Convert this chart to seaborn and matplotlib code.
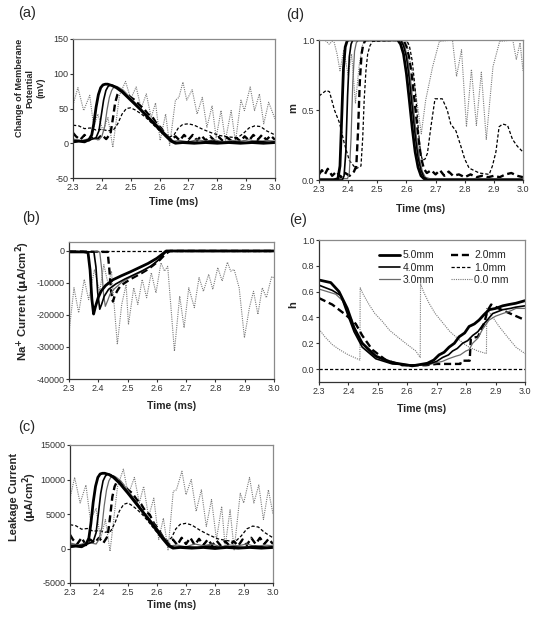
import matplotlib
matplotlib.use('Agg')
import matplotlib.pyplot as plt
import seaborn as sns
from matplotlib.lines import Line2D

# ---------------- data ----------------
SERIES = ['5.0mm', '4.0mm', '3.0mm', '2.0mm', '1.0mm', '0.0 mm']
XTICKS = [2.3, 2.4, 2.5, 2.6, 2.7, 2.8, 2.9, 3.0]
XTICKLABELS = ['2.3', '2.4', '2.5', '2.6', '2.7', '2.8', '2.9', '3.0']

# (a) change of membrane potential (mV)
A_T50 = [2.30, 2.32, 2.34, 2.355, 2.365, 2.372, 2.38, 2.388, 2.396, 2.404, 2.412, 2.42, 2.435, 2.45, 2.47, 2.50, 2.53, 2.56, 2.59, 2.62, 2.64, 2.655, 2.68, 2.72, 2.76, 2.80, 2.84, 2.88, 2.92, 2.96, 3.00]
A_V50 = [2, 3, 2, 5, 12, 28, 52, 70, 80, 84, 85, 85, 83, 80, 74, 62, 50, 37, 24, 11, 3, 0, 1, 0, 1, 0, 1, 0, 1, 0, 1]
A_T40 = [2.30, 2.33, 2.36, 2.38, 2.39, 2.398, 2.406, 2.414, 2.422, 2.43, 2.44, 2.455, 2.47, 2.50, 2.53, 2.56, 2.59, 2.62, 2.645, 2.66, 2.70, 2.74, 2.78, 2.82, 2.86, 2.90, 2.94, 2.98, 3.00]
A_V40 = [4, 3, 5, 8, 18, 40, 62, 76, 82, 84, 83, 80, 75, 63, 51, 38, 26, 13, 3, 1, 2, 1, 3, 1, 2, 1, 3, 1, 2]
A_T30 = [2.30, 2.33, 2.36, 2.39, 2.40, 2.41, 2.418, 2.426, 2.434, 2.442, 2.45, 2.46, 2.475, 2.50, 2.53, 2.56, 2.59, 2.62, 2.648, 2.67, 2.70, 2.73, 2.76, 2.79, 2.82, 2.85, 2.88, 2.91, 2.94, 2.97, 3.00]
A_V30 = [6, 4, 7, 5, 10, 24, 48, 66, 76, 81, 82, 80, 76, 65, 52, 39, 27, 14, 3, 4, 2, 5, 3, 5, 2, 4, 3, 5, 2, 4, 3]
A_T20 = [2.30, 2.31, 2.325, 2.34, 2.355, 2.37, 2.385, 2.40, 2.415, 2.43, 2.438, 2.446, 2.454, 2.462, 2.47, 2.48, 2.49, 2.50, 2.515, 2.53, 2.545, 2.56, 2.575, 2.59, 2.605, 2.62, 2.64, 2.655, 2.67, 2.685, 2.70, 2.715, 2.73, 2.745, 2.76, 2.775, 2.79, 2.805, 2.82, 2.835, 2.85, 2.865, 2.88, 2.895, 2.91, 2.925, 2.94, 2.955, 2.97, 2.985, 3.00]
A_V20 = [15, 10, 5, 12, 4, 10, 6, 12, 6, 14, 35, 58, 70, 75, 76, 72, 70, 66, 62, 55, 50, 42, 38, 28, 22, 13, 5, 10, 4, 12, 5, 12, 4, 11, 4, 10, 4, 9, 3, 8, 3, 8, 3, 10, 4, 12, 5, 12, 5, 11, 5]
A_T10 = [2.30, 2.32, 2.34, 2.36, 2.38, 2.40, 2.42, 2.44, 2.455, 2.47, 2.485, 2.50, 2.515, 2.53, 2.55, 2.57, 2.59, 2.61, 2.63, 2.65, 2.665, 2.68, 2.70, 2.72, 2.75, 2.78, 2.81, 2.84, 2.87, 2.89, 2.91, 2.93, 2.95, 2.97, 3.00]
A_V10 = [26, 25, 21, 22, 19, 20, 18, 19, 28, 42, 50, 51, 48, 44, 38, 30, 22, 14, 8, 12, 22, 27, 28, 26, 20, 15, 11, 9, 8, 14, 22, 25, 24, 18, 12]
A_T00 = [2.300, 2.317, 2.337, 2.358, 2.372, 2.386, 2.404, 2.421, 2.438, 2.461, 2.482, 2.500, 2.519, 2.536, 2.554, 2.571, 2.586, 2.602, 2.621, 2.635, 2.655, 2.667, 2.681, 2.694, 2.713, 2.730, 2.748, 2.764, 2.782, 2.796, 2.813, 2.828, 2.848, 2.863, 2.882, 2.894, 2.914, 2.929, 2.946, 2.961, 2.978, 3.000]
A_V00 = [55, 80, 47, 69, 23, 42, 18, 37, -6, 69, 89, 64, 81, 50, 71, 37, 58, 4, 42, -3, 62, 66, 88, 62, 77, 42, 66, 23, 54, 8, 47, 4, 47, 2, 62, 47, 81, 47, 71, 28, 59, 35]

# (b) Na+ current (uA/cm2)
B_T50 = [2.30, 2.35, 2.365, 2.372, 2.378, 2.384, 2.39, 2.40, 2.41, 2.425, 2.45, 2.48, 2.51, 2.54, 2.57, 2.60, 2.62, 2.632, 2.65, 3.00]
B_V50 = [-300, -300, -500, -6000, -15000, -19700, -17500, -14500, -12500, -10800, -9000, -7700, -6500, -5200, -3900, -2300, -900, 0, 0, 0]
B_T40 = [2.30, 2.385, 2.392, 2.398, 2.405, 2.412, 2.42, 2.435, 2.46, 2.49, 2.52, 2.55, 2.58, 2.61, 2.628, 2.64, 3.00]
B_V40 = [-200, -300, -5000, -13000, -18200, -16500, -14200, -12000, -10300, -8800, -7500, -6200, -4700, -2500, -500, 0, 0]
B_T30 = [2.30, 2.405, 2.412, 2.418, 2.424, 2.432, 2.44, 2.455, 2.48, 2.51, 2.54, 2.57, 2.60, 2.625, 2.64, 3.00]
B_V30 = [-200, -300, -6000, -13500, -17300, -15500, -13500, -11800, -9800, -8200, -6900, -5300, -3300, -800, 0, 0]
B_T20 = [2.30, 2.432, 2.438, 2.444, 2.45, 2.456, 2.465, 2.475, 2.49, 2.51, 2.53, 2.55, 2.57, 2.59, 2.61, 2.63, 2.645, 3.00]
B_V20 = [-200, -300, -6000, -13000, -15800, -14000, -12400, -11000, -10000, -8800, -7800, -6800, -5700, -4300, -2800, -900, 0, 0]
B_T10 = [2.30, 3.00]
B_V10 = [0, 0]
B_T00 = [2.300, 2.317, 2.333, 2.352, 2.367, 2.387, 2.405, 2.419, 2.434, 2.445, 2.465, 2.480, 2.495, 2.503, 2.521, 2.535, 2.550, 2.565, 2.581, 2.597, 2.614, 2.626, 2.637, 2.660, 2.678, 2.693, 2.709, 2.728, 2.744, 2.759, 2.777, 2.791, 2.808, 2.823, 2.841, 2.852, 2.864, 2.881, 2.899, 2.916, 2.930, 2.945, 2.960, 2.974, 2.992, 3.000]
B_V00 = [-25500, -11500, -19300, -8900, -15200, -5800, -12600, -4300, -10500, -6300, -29200, -16700, -10500, -23000, -11500, -16700, -8900, -14600, -6800, -13100, -3700, -6300, -4800, -31300, -14100, -24000, -11500, -17700, -8300, -12600, -7300, -12000, -5200, -9400, -3500, -6300, -5800, -11500, -27100, -17700, -12600, -19800, -11500, -14600, -8000, -8400]

# (c) leakage current (uA/cm2)
C_T50 = A_T50
C_V50 = [250, 350, 250, 600, 1500, 3600, 6700, 9000, 10300, 10800, 10900, 10900, 10700, 10300, 9500, 8000, 6400, 4800, 3100, 1400, 400, 50, 150, 50, 150, 0, 150, 50, 150, 50, 150]
C_T40 = A_T40
C_V40 = [500, 400, 650, 1000, 2300, 5100, 8000, 9800, 10500, 10800, 10700, 10300, 9650, 8100, 6600, 4900, 3400, 1700, 400, 150, 250, 150, 350, 150, 250, 150, 350, 150, 250]
C_T30 = A_T30
C_V30 = [800, 500, 900, 650, 1300, 3100, 6200, 8500, 9800, 10400, 10550, 10300, 9800, 8400, 6700, 5000, 3500, 1800, 400, 500, 250, 650, 400, 650, 250, 500, 400, 650, 250, 500, 400]
C_T20 = A_T20
C_V20 = [2000, 1300, 650, 1550, 500, 1300, 800, 1550, 800, 1800, 4500, 7500, 9000, 9700, 9800, 9300, 9000, 8500, 8000, 7100, 6450, 5400, 4900, 3600, 2800, 1700, 650, 1300, 500, 1550, 650, 1550, 500, 1400, 500, 1300, 500, 1150, 400, 1050, 400, 1050, 400, 1300, 500, 1550, 650, 1550, 650, 1400, 650]
C_T10 = A_T10
C_V10 = [3450, 3300, 2800, 2900, 2500, 2600, 2350, 2500, 3700, 5400, 6400, 6600, 6200, 5700, 4900, 3900, 2850, 1800, 1000, 1550, 2850, 3500, 3650, 3400, 2600, 1950, 1400, 1150, 1000, 1800, 2850, 3250, 3100, 2350, 1550]
C_T00 = [2.300, 2.316, 2.335, 2.355, 2.370, 2.390, 2.405, 2.422, 2.438, 2.464, 2.484, 2.501, 2.522, 2.539, 2.554, 2.571, 2.589, 2.606, 2.622, 2.638, 2.656, 2.667, 2.686, 2.700, 2.718, 2.735, 2.753, 2.770, 2.788, 2.805, 2.823, 2.835, 2.852, 2.866, 2.887, 2.899, 2.919, 2.934, 2.951, 2.967, 2.984, 3.000]
C_V00 = [7300, 10300, 6600, 9200, 4200, 5800, 1300, 4200, -400, 9000, 11500, 7800, 10300, 6600, 9000, 4600, 7300, 1300, 4400, -200, 8300, 8500, 11200, 7800, 10000, 5400, 8500, 3200, 7100, 1300, 6100, 300, 5600, -200, 8000, 6600, 10300, 6600, 9200, 4200, 8500, 5000]

# (d) m gate
D_T50 = [2.30, 2.35, 2.365, 2.372, 2.378, 2.384, 2.39, 2.396, 2.40, 2.57, 2.58, 2.59, 2.60, 2.61, 2.62, 2.63, 2.64, 2.65, 2.66, 2.67, 3.00]
D_V50 = [0.0, 0.0, 0.01, 0.1, 0.45, 0.8, 0.95, 0.99, 1.0, 1.0, 0.97, 0.9, 0.76, 0.57, 0.37, 0.2, 0.09, 0.03, 0.01, 0.0, 0.0]
D_T40 = [2.30, 2.38, 2.386, 2.392, 2.398, 2.404, 2.41, 2.416, 2.58, 2.59, 2.60, 2.61, 2.62, 2.63, 2.64, 2.65, 2.66, 2.675, 3.00]
D_V40 = [0.0, 0.0, 0.03, 0.2, 0.6, 0.88, 0.97, 1.0, 1.0, 0.96, 0.88, 0.72, 0.52, 0.32, 0.16, 0.07, 0.02, 0.0, 0.0]
D_T30 = [2.30, 2.398, 2.404, 2.41, 2.416, 2.422, 2.428, 2.435, 2.585, 2.595, 2.605, 2.615, 2.625, 2.635, 2.645, 2.655, 2.665, 2.68, 3.00]
D_V30 = [0.01, 0.01, 0.05, 0.3, 0.7, 0.92, 0.98, 1.0, 1.0, 0.95, 0.86, 0.7, 0.5, 0.3, 0.15, 0.06, 0.02, 0.01, 0.01]
D_T20 = [2.30, 2.31, 2.32, 2.33, 2.345, 2.36, 2.375, 2.39, 2.405, 2.42, 2.428, 2.434, 2.44, 2.446, 2.452, 2.46, 2.59, 2.60, 2.61, 2.62, 2.63, 2.64, 2.65, 2.66, 2.67, 2.685, 2.70, 2.715, 2.73, 2.745, 2.76, 2.78, 2.80, 2.82, 2.84, 2.86, 2.88, 2.90, 2.92, 2.94, 2.96, 2.98, 3.00]
D_V20 = [0.04, 0.07, 0.04, 0.08, 0.03, 0.06, 0.02, 0.05, 0.03, 0.06, 0.1, 0.35, 0.7, 0.9, 0.97, 1.0, 1.0, 0.95, 0.87, 0.72, 0.52, 0.32, 0.16, 0.08, 0.05, 0.07, 0.04, 0.07, 0.03, 0.06, 0.03, 0.04, 0.02, 0.04, 0.02, 0.03, 0.02, 0.03, 0.02, 0.04, 0.05, 0.03, 0.02]
D_T10 = [2.30, 2.325, 2.336, 2.353, 2.37, 2.387, 2.404, 2.427, 2.444, 2.45, 2.455, 2.461, 2.467, 2.475, 2.484, 2.60, 2.61, 2.62, 2.63, 2.64, 2.648, 2.655, 2.664, 2.672, 2.684, 2.698, 2.723, 2.74, 2.752, 2.77, 2.787, 2.80, 2.815, 2.85, 2.884, 2.895, 2.907, 2.918, 2.93, 2.947, 2.964, 2.981, 3.00]
D_V10 = [0.6, 0.64, 0.63, 0.5, 0.41, 0.26, 0.14, 0.08, 0.1, 0.3, 0.57, 0.78, 0.9, 0.96, 0.99, 1.0, 0.96, 0.85, 0.65, 0.38, 0.2, 0.14, 0.15, 0.19, 0.38, 0.58, 0.58, 0.5, 0.4, 0.35, 0.24, 0.15, 0.085, 0.05, 0.04, 0.1, 0.2, 0.38, 0.4, 0.39, 0.29, 0.24, 0.2]
D_T00 = [2.30, 2.32, 2.335, 2.35, 2.362, 2.372, 2.385, 2.40, 2.412, 2.425, 2.438, 2.45, 2.46, 2.60, 2.612, 2.625, 2.64, 2.651, 2.666, 2.69, 2.713, 2.758, 2.772, 2.789, 2.806, 2.823, 2.84, 2.857, 2.874, 2.897, 2.92, 2.965, 2.977, 2.99, 3.00]
D_V00 = [1.0, 1.0, 0.97, 1.0, 0.9, 0.78, 0.93, 0.75, 0.9, 0.55, 0.82, 0.97, 1.0, 1.0, 0.85, 0.72, 0.5, 0.33, 0.57, 0.81, 0.99, 1.0, 0.74, 0.93, 0.38, 0.79, 0.39, 0.77, 0.29, 0.81, 0.99, 1.0, 0.86, 0.98, 0.78]

# (e) h gate
E_T50 = [2.30, 2.34, 2.368, 2.396, 2.419, 2.447, 2.493, 2.549, 2.617, 2.668, 2.69, 2.708, 2.725, 2.742, 2.76, 2.776, 2.795, 2.81, 2.828, 2.844, 2.86, 2.878, 2.90, 2.924, 2.945, 2.969, 3.00]
E_V50 = [0.69, 0.67, 0.60, 0.47, 0.32, 0.2, 0.10, 0.05, 0.025, 0.045, 0.07, 0.11, 0.13, 0.17, 0.2, 0.25, 0.28, 0.33, 0.35, 0.38, 0.42, 0.46, 0.47, 0.49, 0.5, 0.51, 0.53]
E_T40 = [2.30, 2.345, 2.374, 2.396, 2.419, 2.447, 2.493, 2.549, 2.629, 2.674, 2.70, 2.72, 2.74, 2.754, 2.77, 2.788, 2.805, 2.822, 2.84, 2.856, 2.872, 2.89, 2.924, 2.95, 2.969, 3.00]
E_V40 = [0.65, 0.61, 0.57, 0.43, 0.29, 0.17, 0.08, 0.04, 0.03, 0.04, 0.06, 0.09, 0.11, 0.14, 0.16, 0.2, 0.22, 0.26, 0.29, 0.34, 0.38, 0.43, 0.46, 0.47, 0.48, 0.49]
E_T30 = [2.30, 2.357, 2.385, 2.408, 2.436, 2.47, 2.527, 2.606, 2.674, 2.70, 2.72, 2.74, 2.765, 2.78, 2.799, 2.81, 2.822, 2.84, 2.856, 2.878, 2.90, 2.924, 2.95, 2.969, 3.00]
E_V30 = [0.62, 0.58, 0.52, 0.39, 0.24, 0.13, 0.06, 0.03, 0.035, 0.05, 0.06, 0.08, 0.1, 0.11, 0.14, 0.15, 0.2, 0.24, 0.31, 0.38, 0.41, 0.43, 0.45, 0.47, 0.47]
E_T20 = [2.30, 2.345, 2.391, 2.425, 2.447, 2.481, 2.527, 2.583, 2.663, 2.70, 2.78, 2.784, 2.812, 2.816, 2.84, 2.85, 2.862, 2.872, 2.885, 2.91, 2.95, 3.00]
E_V20 = [0.55, 0.5, 0.42, 0.35, 0.26, 0.15, 0.07, 0.03, 0.03, 0.04, 0.04, 0.065, 0.065, 0.24, 0.25, 0.3, 0.36, 0.45, 0.5, 0.47, 0.43, 0.38]
E_T10 = [2.30, 3.00]
E_V10 = [0.0, 0.0]
E_T00 = [2.30, 2.32, 2.345, 2.37, 2.40, 2.425, 2.439, 2.440, 2.45, 2.47, 2.49, 2.515, 2.54, 2.572, 2.60, 2.629, 2.644, 2.645, 2.655, 2.674, 2.695, 2.72, 2.745, 2.765, 2.79, 2.81, 2.84, 2.869, 2.870, 2.885, 2.912, 2.94, 2.969, 3.00]
E_V00 = [0.31, 0.25, 0.19, 0.15, 0.11, 0.085, 0.07, 0.63, 0.58, 0.5, 0.43, 0.37, 0.3, 0.24, 0.19, 0.14, 0.09, 0.66, 0.6, 0.51, 0.43, 0.36, 0.29, 0.25, 0.2, 0.17, 0.14, 0.12, 0.47, 0.42, 0.33, 0.25, 0.17, 0.12]

# ---------------- styling ----------------
sns.set_theme(style='ticks')
plt.rcParams['font.family'] = ['Liberation Sans', 'DejaVu Sans']
plt.rcParams['axes.unicode_minus'] = False
plt.rcParams['mathtext.default'] = 'regular'

STYLES = {
    '5.0mm':  dict(color='black',   lw=2.0, dash=None),
    '4.0mm':  dict(color='black',   lw=1.2, dash=None),
    '3.0mm':  dict(color='#6a6a6a', lw=0.9, dash=None),
    '2.0mm':  dict(color='black',   lw=1.7, dash=(3.0, 1.6)),
    '1.0mm':  dict(color='black',   lw=0.9, dash=(2.6, 1.6)),
    '0.0 mm': dict(color='#7a7a7a', lw=0.8, dash=(1.0, 1.0)),
}

W, H = 540, 623
fig = plt.figure(figsize=(W / 100, H / 100), dpi=100)


def add_ax(l, t, r, b):
    return fig.add_axes([l / W, 1 - b / H, (r - l) / W, (b - t) / H])


def draw(ax, pairs):
    # draw back-to-front: 0.0 mm first
    for name, (t, v) in reversed(list(zip(SERIES, pairs))):
        assert len(t) == len(v), (name, len(t), len(v))
        s = STYLES[name]
        sns.lineplot(x=t, y=v, ax=ax, color=s['color'], linewidth=s['lw'],
                     estimator=None, sort=False, legend=False)
        ln = ax.lines[-1]
        if s['dash'] is not None:
            ln.set_dashes(s['dash'])
        ln.set_solid_joinstyle('round')


def style(ax, ylim, yticks, yticklabels):
    ax.set_xlim(2.3, 3.0)
    ax.set_ylim(*ylim)
    ax.set_xticks(XTICKS)
    ax.set_xticklabels(XTICKLABELS)
    ax.set_yticks(yticks)
    ax.set_yticklabels(yticklabels)
    ax.set_xlabel('')
    ax.set_ylabel('')
    for sp in ['top', 'right']:
        ax.spines[sp].set_visible(True)
        ax.spines[sp].set_color('#8a8a8a')
        ax.spines[sp].set_linewidth(0.9)
    for sp in ['left', 'bottom']:
        ax.spines[sp].set_color('#333333')
        ax.spines[sp].set_linewidth(0.9)
    ax.tick_params(direction='out', length=2.5, width=0.8, color='#333333',
                   labelcolor='#333333', labelsize=6.5, pad=0.8)


axA = add_ax(73, 39, 275, 178)
axB = add_ax(69, 242, 274, 379)
axC = add_ax(70, 445, 273, 583)
axD = add_ax(319, 40, 523, 180)
axE = add_ax(319, 240, 525, 382)

draw(axA, [(A_T50, A_V50), (A_T40, A_V40), (A_T30, A_V30), (A_T20, A_V20), (A_T10, A_V10), (A_T00, A_V00)])
draw(axB, [(B_T50, B_V50), (B_T40, B_V40), (B_T30, B_V30), (B_T20, B_V20), (B_T10, B_V10), (B_T00, B_V00)])
draw(axC, [(C_T50, C_V50), (C_T40, C_V40), (C_T30, C_V30), (C_T20, C_V20), (C_T10, C_V10), (C_T00, C_V00)])
draw(axD, [(D_T50, D_V50), (D_T40, D_V40), (D_T30, D_V30), (D_T20, D_V20), (D_T10, D_V10), (D_T00, D_V00)])
draw(axE, [(E_T50, E_V50), (E_T40, E_V40), (E_T30, E_V30), (E_T20, E_V20), (E_T10, E_V10), (E_T00, E_V00)])

style(axA, (-50, 150), [-50, 0, 50, 100, 150], ['-50', '0', '50', '100', '150'])
style(axB, (-40000, 2800), [-40000, -30000, -20000, -10000, 0], ['-40000', '-30000', '-20000', '-10000', '0'])
style(axC, (-5000, 15000), [-5000, 0, 5000, 10000, 15000], ['-5000', '0', '5000', '10000', '15000'])
style(axD, (0, 1.0), [0.0, 0.5, 1.0], ['0.0', '0.5', '1.0'])
style(axE, (-0.1, 1.0), [0.0, 0.2, 0.4, 0.6, 0.8, 1.0], ['0.0', '0.2', '0.4', '0.6', '0.8', '1.0'])

# legend in (e)
handles = []
for name in SERIES:
    s = STYLES[name]
    h = Line2D([0], [0], color=s['color'], lw=s['lw'])
    if s['dash'] is not None:
        h.set_dashes(s['dash'])
    handles.append(h)
axE.legend(handles, SERIES, ncol=2, loc='upper right', frameon=False,
           bbox_to_anchor=(515 / W, 1 - 244 / H), bbox_transform=fig.transFigure,
           fontsize=7.5, handlelength=2.0, handletextpad=0.25, columnspacing=1.6,
           labelspacing=0.22, borderpad=0.1)


def ftext(x, y, s, **kw):
    fig.text(x / W, 1 - y / H, s, ha='center', va='center', **kw)


# panel letters
for (x, y, s) in [(27, 13, '(a)'), (31, 218, '(b)'), (27, 427, '(c)'), (295, 15, '(d)'), (298, 220, '(e)')]:
    ftext(x, y, s, fontsize=10.5)

# x labels
for (x, y) in [(174, 202), (172, 406), (172, 605), (421, 209), (422, 409)]:
    ftext(x, y, 'Time (ms)', fontsize=7.6, fontweight='bold')

# y labels
ftext(30, 88, 'Change of Memberane\nPotential\n(mV)', fontsize=6.6, fontweight='bold',
      rotation=90, linespacing=1.25, multialignment='center')
ftext(23, 301, r'Na$^{\mathbf{+}}$ Current ($\mathbf{\mu}$A/cm$^{\mathbf{2}}$)', fontsize=8.2,
      fontweight='bold', rotation=90)
ftext(24, 497, 'Leakage Current\n' + r'($\mathbf{\mu}$A/cm$^{\mathbf{2}}$)', fontsize=8,
      fontweight='bold', rotation=90, linespacing=1.05, multialignment='center')
ftext(293, 108, 'm', fontsize=8, fontweight='bold', rotation=90)
ftext(293, 305, 'h', fontsize=8, fontweight='bold', rotation=90)

fig.savefig('out.png', dpi=100)
